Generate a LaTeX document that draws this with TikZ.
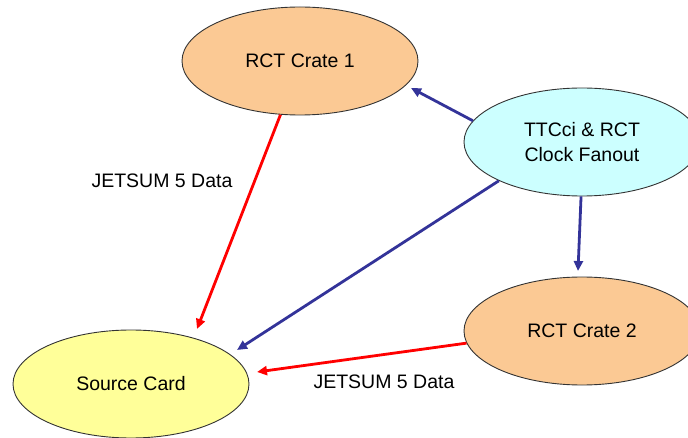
\documentclass[tikz,border=0pt]{standalone}
\usepackage{fontspec}
\setmainfont{Liberation Sans}
\usetikzlibrary{shapes.geometric,arrows.meta}
\definecolor{crate}{HTML}{FBC994}
\definecolor{ttc}{HTML}{CCFFFF}
\definecolor{src}{HTML}{FFFF99}
\definecolor{bluearr}{HTML}{333399}
\definecolor{redarr}{HTML}{FF0000}
\tikzset{
  blob/.style={ellipse, draw=black!80, line width=0.9pt, minimum width=236pt, minimum height=108pt, inner sep=0pt, font=\fontsize{19.5}{25}\selectfont, align=center},
  conn/.style={line width=2.8pt, -{Triangle[length=10pt,width=9pt]}},
  redc/.style={conn, draw=redarr, fill=redarr},
  bluec/.style={conn, draw=bluearr, fill=bluearr},
  lbl/.style={font=\fontsize{19.5}{22}\selectfont, inner sep=0pt}
}
\begin{document}
\begin{tikzpicture}[x=1pt,y=-1pt]
\clip (0,0) rectangle (688,438);
\fill[white] (0,0) rectangle (688,438);
\node[blob, fill=crate] (c1) at (300,61) {RCT Crate 1};
\node[blob, fill=ttc] (ttcn) at (582,142) {TTCci \& RCT\\Clock Fanout};
\node[blob, fill=crate] (c2) at (582,331) {RCT Crate 2};
\node[blob, fill=src] (sc) at (131,384) {Source Card};
\coordinate (t1) at (197,329);
\coordinate (t2) at (411,88);
\coordinate (t3) at (237,350);
\coordinate (t4) at (578,271);
\coordinate (t5) at (257,372);
\draw[redc] (c1.250) -- (t1);
\draw[bluec] (ttcn.169) -- (t2);
\draw[bluec] (ttcn.205) -- (t3);
\draw[bluec] (ttcn.269) -- (t4);
\draw[redc] (c2.186) -- (t5);
\node[lbl] (l1) at (162,181) {JETSUM 5 Data};
\node[lbl] (l2) at (384,382) {JETSUM 5 Data};
\end{tikzpicture}
\end{document}
